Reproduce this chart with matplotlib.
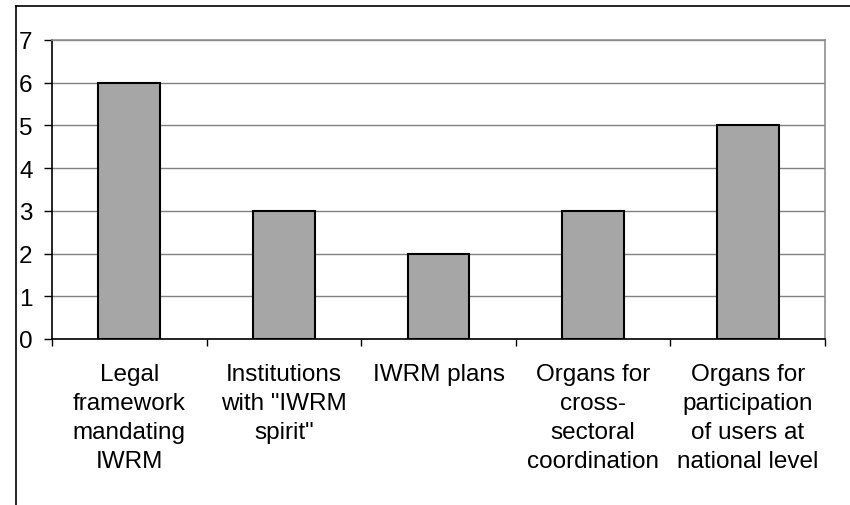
import matplotlib
matplotlib.use("Agg")
import matplotlib.pyplot as plt
from matplotlib.lines import Line2D
from matplotlib.ticker import MultipleLocator, FixedLocator

plt.rcParams['font.family'] = ['Liberation Sans', 'DejaVu Sans']

# Data
categories = [
    "Legal\nframework\nmandating\nIWRM",
    "Institutions\nwith \"IWRM\nspirit\"",
    "IWRM plans",
    "Organs for\ncross-\nsectoral\ncoordination",
    "Organs for\nparticipation\nof users at\nnational level",
]
values = [6, 3, 2, 3, 5]

fig = plt.figure(figsize=(8.5, 5.06), dpi=100)
ax = fig.add_axes([52 / 850, 1 - 340 / 506, (825 - 52) / 850, (340 - 41) / 506])

x = list(range(len(categories)))
ax.bar(x, values, width=0.4, color='#a6a6a6', edgecolor='black', linewidth=1.5, zorder=3)

ax.set_xlim(-0.5, len(categories) - 0.5)
ax.set_ylim(0, 7)
ax.yaxis.set_major_locator(MultipleLocator(1))
ax.grid(axis='y', color='#808080', linewidth=1, zorder=0)

# category labels centred, tick marks at category boundaries
ax.set_xticks(x)
ax.set_xticklabels(categories, fontsize=17.5, linespacing=1.42, va='top')
ax.tick_params(axis='x', which='major', length=0, pad=17)
ax.xaxis.set_minor_locator(FixedLocator([i - 0.5 for i in range(len(categories) + 1)]))
ax.tick_params(axis='x', which='minor', length=5, width=1, color='black', direction='out')

ax.tick_params(axis='y', labelsize=17.5, length=6, width=1, direction='out', pad=8)

for side in ['left', 'bottom']:
    ax.spines[side].set_color('black')
    ax.spines[side].set_linewidth(1.2)
for side in ['top', 'right']:
    ax.spines[side].set_color('#909090')
    ax.spines[side].set_linewidth(1.2)

# outer chart frame (top and left edges)
fig.add_artist(Line2D([16 / 850, 16 / 850], [0, 1 - 7 / 506], color='black', linewidth=1.2,
                      transform=fig.transFigure))
fig.add_artist(Line2D([16 / 850, 1], [1 - 7 / 506, 1 - 7 / 506], color='black', linewidth=1.2,
                      transform=fig.transFigure))

fig.savefig("out.png", dpi=100)
